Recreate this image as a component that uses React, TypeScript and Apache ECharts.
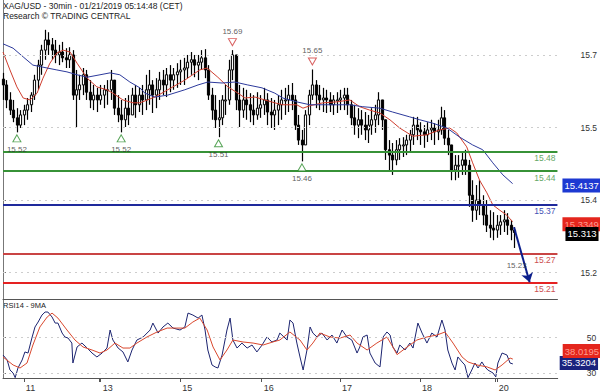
import React, { useEffect, useRef } from 'react';
import * as echarts from 'echarts';

const titleText = 'XAG/USD - 30min - 01/21/2019 05:14:48 (CET)';
const subtitleText = 'Research \u00A9 TRADING CENTRAL';
const rsiTitle = 'RSI14 - 9MA';

// hourly bars (index = hour since the start of the window)
const firstOpen = 15.63;
const highs = [
  15.643, 15.628, 15.603, 15.587, 15.570, 15.566, 15.577, 15.591, 15.603, 15.639,
  15.670, 15.701, 15.732, 15.727, 15.715, 15.711, 15.701, 15.707, 15.694, 15.696,
  15.690, 15.649, 15.639, 15.653, 15.649, 15.628, 15.618, 15.612, 15.618, 15.618,
  15.628, 15.649, 15.628, 15.597, 15.587, 15.591, 15.597, 15.612, 15.618, 15.612,
  15.618, 15.639, 15.649, 15.628, 15.632, 15.645, 15.649, 15.653, 15.659, 15.653,
  15.663, 15.670, 15.674, 15.680, 15.686, 15.680, 15.680, 15.690, 15.692, 15.659,
  15.612, 15.597, 15.587, 15.597, 15.618, 15.670, 15.690, 15.670, 15.618, 15.612,
  15.608, 15.601, 15.597, 15.603, 15.597, 15.612, 15.601, 15.591, 15.587, 15.597,
  15.608, 15.612, 15.618, 15.622, 15.597, 15.556, 15.525, 15.566, 15.608, 15.650,
  15.628, 15.618, 15.612, 15.608, 15.603, 15.597, 15.603, 15.608, 15.612, 15.612,
  15.587, 15.577, 15.570, 15.566, 15.562, 15.556, 15.570, 15.577, 15.603, 15.587,
  15.546, 15.504, 15.498, 15.504, 15.508, 15.510, 15.515, 15.525, 15.552, 15.552,
  15.541, 15.535, 15.541, 15.546, 15.539, 15.546, 15.573, 15.566, 15.525, 15.494,
  15.473, 15.473, 15.479, 15.484, 15.463, 15.421, 15.411, 15.421, 15.390, 15.380,
  15.359, 15.355, 15.349, 15.349, 15.359, 15.353, 15.339, 15.324,
];
const lows = [
  15.587, 15.570, 15.556, 15.541, 15.520, 15.529, 15.535, 15.546, 15.562, 15.587,
  15.608, 15.639, 15.670, 15.680, 15.670, 15.663, 15.659, 15.665, 15.653, 15.653,
  15.587, 15.531, 15.587, 15.597, 15.587, 15.570, 15.566, 15.562, 15.577, 15.570,
  15.577, 15.587, 15.556, 15.541, 15.520, 15.531, 15.535, 15.556, 15.550, 15.562,
  15.556, 15.566, 15.577, 15.560, 15.570, 15.587, 15.597, 15.593, 15.603, 15.608,
  15.612, 15.618, 15.618, 15.632, 15.639, 15.634, 15.628, 15.649, 15.632, 15.587,
  15.546, 15.529, 15.510, 15.535, 15.556, 15.577, 15.628, 15.566, 15.531, 15.550,
  15.546, 15.541, 15.535, 15.546, 15.550, 15.556, 15.535, 15.529, 15.525, 15.535,
  15.546, 15.556, 15.562, 15.566, 15.525, 15.494, 15.460, 15.494, 15.535, 15.587,
  15.570, 15.566, 15.562, 15.560, 15.562, 15.556, 15.560, 15.566, 15.566, 15.556,
  15.535, 15.515, 15.508, 15.515, 15.504, 15.498, 15.515, 15.519, 15.535, 15.525,
  15.463, 15.442, 15.432, 15.452, 15.463, 15.469, 15.473, 15.479, 15.494, 15.504,
  15.494, 15.488, 15.500, 15.504, 15.494, 15.504, 15.515, 15.494, 15.473, 15.421,
  15.421, 15.426, 15.432, 15.432, 15.366, 15.335, 15.339, 15.349, 15.328, 15.314,
  15.302, 15.297, 15.302, 15.308, 15.314, 15.308, 15.297, 15.281,
];
const closes = [
  15.618, 15.587, 15.566, 15.550, 15.535, 15.556, 15.566, 15.577, 15.597, 15.628,
  15.659, 15.690, 15.711, 15.701, 15.690, 15.680, 15.686, 15.674, 15.670, 15.680,
  15.597, 15.608, 15.618, 15.639, 15.603, 15.587, 15.597, 15.587, 15.597, 15.608,
  15.608, 15.628, 15.570, 15.556, 15.546, 15.570, 15.556, 15.597, 15.577, 15.597,
  15.587, 15.608, 15.618, 15.597, 15.608, 15.628, 15.618, 15.639, 15.628, 15.639,
  15.645, 15.649, 15.653, 15.665, 15.670, 15.659, 15.665, 15.674, 15.649, 15.597,
  15.566, 15.546, 15.550, 15.587, 15.587, 15.649, 15.680, 15.587, 15.566, 15.587,
  15.577, 15.566, 15.556, 15.570, 15.577, 15.587, 15.562, 15.556, 15.566, 15.577,
  15.587, 15.587, 15.597, 15.587, 15.535, 15.504, 15.494, 15.556, 15.597, 15.618,
  15.597, 15.587, 15.591, 15.587, 15.577, 15.587, 15.587, 15.591, 15.597, 15.577,
  15.550, 15.535, 15.546, 15.535, 15.525, 15.535, 15.546, 15.556, 15.587, 15.546,
  15.484, 15.473, 15.463, 15.484, 15.494, 15.494, 15.504, 15.515, 15.535, 15.525,
  15.521, 15.515, 15.525, 15.529, 15.521, 15.525, 15.550, 15.508, 15.494, 15.442,
  15.452, 15.452, 15.463, 15.452, 15.390, 15.359, 15.380, 15.370, 15.349, 15.328,
  15.322, 15.318, 15.328, 15.335, 15.339, 15.328, 15.318, 15.313,
];

const redMA: [number, number][] = [
  [0, 15.686], [2.0, 15.649], [4.0, 15.614], [5.8, 15.591], [7.8, 15.587], [9.8, 15.601],
  [11.5, 15.632], [13.5, 15.663], [15.5, 15.684], [17.3, 15.690], [19.3, 15.686], [21.3, 15.663],
  [24.2, 15.632], [27.0, 15.614], [29.9, 15.608], [31.6, 15.601], [34.5, 15.587], [37.4, 15.581],
  [39.4, 15.581], [43.7, 15.593], [47.4, 15.608], [52.3, 15.628], [56.6, 15.649], [58.7, 15.653],
  [61.8, 15.634], [64.7, 15.614], [67.6, 15.601], [69.6, 15.591], [72.5, 15.593], [75.3, 15.587],
  [78.2, 15.581], [80.5, 15.577], [84.5, 15.577], [86.3, 15.570], [88.3, 15.575], [92.0, 15.581],
  [96.0, 15.583], [99.8, 15.587], [102.6, 15.573], [105.5, 15.566], [108.4, 15.560], [111.3, 15.546],
  [114.1, 15.529], [117.9, 15.512], [121.9, 15.515], [125.6, 15.525], [128.5, 15.529], [130.5, 15.519],
  [133.4, 15.490], [135.1, 15.457], [137.1, 15.421], [139.2, 15.395], [140.9, 15.370], [142.9, 15.359],
  [144.9, 15.349], [146.6, 15.335],
];
const blueMA: [number, number][] = [
  [0, 15.703], [2.9, 15.694], [5.8, 15.676], [8.6, 15.659], [12.7, 15.653], [15.5, 15.649],
  [18.4, 15.645], [21.3, 15.639], [24.2, 15.634], [27.9, 15.639], [30.8, 15.643], [33.6, 15.639],
  [36.5, 15.624], [39.4, 15.612], [40.8, 15.601], [43.7, 15.593], [47.4, 15.597], [52.3, 15.608],
  [56.1, 15.618], [58.9, 15.624], [63.0, 15.622], [66.7, 15.624], [70.4, 15.618], [74.5, 15.612],
  [78.2, 15.601], [80.5, 15.591], [84.5, 15.583], [88.3, 15.577], [96.0, 15.577], [99.8, 15.577],
  [103.5, 15.573], [108.4, 15.570], [112.1, 15.562], [117.0, 15.552], [119.9, 15.546], [123.6, 15.539],
  [127.7, 15.529], [131.4, 15.510], [135.1, 15.494], [138.0, 15.484], [140.9, 15.457], [143.8, 15.432],
  [146.6, 15.414],
];

const rsi: [number, number][] = [
  [0, 40.3], [1.2, 37.5], [2.0, 31.9], [2.9, 30.2], [3.5, 27.6], [4.3, 33.0], [5.5, 37.5], [6.3, 42.0],
  [7.2, 41.4], [8.3, 49.8], [9.2, 56.0], [10.1, 58.8], [11.2, 62.7], [12.1, 64.4], [12.9, 64.4], [14.1, 61.6],
  [15.0, 58.2], [15.8, 58.2], [17.0, 52.6], [17.8, 50.4], [18.7, 49.8], [19.8, 47.0], [20.1, 35.8], [21.3, 44.8],
  [22.7, 47.0], [24.2, 44.2], [25.6, 41.4], [27.0, 39.2], [28.5, 41.4], [29.9, 44.2], [30.8, 54.3], [31.6, 48.7],
  [33.1, 44.2], [34.5, 42.0], [35.9, 36.4], [37.1, 43.1], [38.5, 48.7], [40.3, 50.4], [42.3, 54.3], [43.1, 58.2],
  [44.6, 52.6], [46.0, 56.0], [47.4, 58.2], [48.9, 55.4], [50.9, 54.3], [52.3, 56.0], [53.2, 63.8], [54.6, 62.7],
  [56.1, 61.0], [57.2, 62.7], [58.1, 54.3], [58.9, 43.1], [60.1, 34.7], [61.0, 33.6], [61.8, 33.0], [63.0, 40.3],
  [64.4, 54.3], [65.3, 61.0], [66.1, 48.7], [67.3, 44.2], [68.7, 47.0], [70.2, 44.2], [71.6, 45.9], [73.0, 42.0],
  [74.5, 45.9], [75.9, 50.4], [77.3, 47.6], [78.8, 48.7], [79.6, 52.6], [81.7, 48.7], [82.5, 59.9], [83.4, 58.2],
  [84.5, 47.0], [85.4, 39.2], [86.3, 31.9], [87.4, 43.1], [88.3, 56.0], [89.1, 52.6], [90.3, 50.4], [91.7, 52.6],
  [93.2, 48.7], [94.6, 51.5], [96.0, 47.0], [97.5, 54.3], [98.9, 50.4], [100.3, 48.7], [101.8, 41.4], [102.6, 44.8],
  [103.5, 50.4], [104.7, 51.5], [105.5, 41.4], [107.0, 35.8], [108.4, 33.6], [109.3, 50.4], [110.4, 53.2], [111.3, 51.5],
  [112.1, 44.8], [113.3, 41.4], [114.1, 45.9], [115.6, 43.1], [117.0, 47.0], [117.9, 44.2], [119.3, 58.2], [120.5, 52.6],
  [121.9, 47.0], [123.3, 52.6], [124.8, 50.4], [126.2, 59.9], [127.1, 54.3], [127.9, 43.1], [129.1, 35.8], [130.0, 31.9],
  [130.8, 39.2], [132.0, 36.4], [132.8, 34.7], [133.7, 27.6], [134.8, 31.9], [135.7, 35.8], [136.6, 33.0], [137.7, 36.4],
  [138.6, 33.6], [139.4, 31.9], [140.9, 30.2], [141.7, 28.0], [142.3, 35.8], [143.5, 41.4], [144.9, 40.3], [145.8, 35.8],
  [146.6, 35.3],
];
const rsiMA: [number, number][] = [
  [0, 39.2], [2.9, 34.7], [4.9, 33.0], [6.9, 35.8], [8.6, 45.9], [10.6, 56.0], [12.7, 61.6], [14.1, 63.8],
  [15.8, 61.0], [18.4, 54.3], [20.7, 48.7], [23.0, 44.8], [25.6, 43.1], [27.9, 41.4], [29.9, 43.1], [32.2, 47.0],
  [34.5, 44.2], [36.5, 44.2], [38.5, 47.0], [41.4, 50.4], [44.3, 53.2], [47.2, 55.4], [50.0, 55.4], [52.3, 55.4],
  [54.6, 58.8], [56.6, 61.0], [58.7, 54.3], [60.4, 44.8], [62.4, 37.5], [64.4, 43.1], [66.1, 48.7], [69.0, 47.6],
  [71.9, 47.0], [74.8, 45.9], [77.6, 47.6], [79.6, 48.7], [82.5, 53.2], [85.4, 48.7], [87.4, 43.1], [89.1, 47.0],
  [91.1, 52.6], [94.0, 50.4], [96.9, 49.8], [99.8, 51.5], [101.8, 47.0], [104.7, 43.1], [107.5, 47.0], [110.4, 50.4],
  [112.1, 44.8], [113.3, 40.5], [116.2, 44.8], [119.0, 48.7], [121.9, 50.4], [124.8, 51.5], [127.1, 53.2], [129.4, 47.0],
  [132.0, 39.2], [133.7, 36.4], [136.3, 34.7], [139.2, 33.6], [141.5, 31.9], [143.5, 34.7], [145.8, 38.6], [146.6, 38.0],
];

const priceGridValues = [15.23, 15.38, 15.53, 15.68];
const rsiGridValues = [30, 50];
const levelValues = [15.48, 15.44, 15.37, 15.27, 15.21];
const lowMarks: [number, number][] = [[4, 15.52], [34, 15.52], [62, 15.51], [86, 15.46]];
const highMarks: [number, number][] = [[66, 15.69], [89, 15.65]];
const lastBlueMA = 15.4137;
const lastRedMA = 15.3349;
const lastClose = 15.313;
const lastRsi = 35.3204;
const lastRsiMA = 38.0195;
const forecastEnd: [number, number] = [151.5, 15.21];
const forecastText = '15.23';
const dayTicks = [6.0, 27.6, 28.1, 51.0, 74.4, 96.9, 119.9, 141.5, 142.0];
const dayLabelTicks = [6.0, 28.1, 51.0, 74.4, 96.9, 119.9, 142.0];
const dayLabels = ['11', '13', '15', '16', '17', '18', '20'];

// styles
const levelLineColors = ['#379237', '#379237', '#1f2a9c', '#c94444', '#e52222'];
const levelTextColors = ['#67a867', '#67a867', '#4452b4', '#cc5050', '#cc5050'];
const FONT = 'Liberation Sans, Arial, sans-serif';
const X_MAX = 159.5;
const PRICE_MIN = 15.1755;
const PRICE_MAX = 15.7936;
const RSI_MIN = 27.4;
const RSI_MAX = 71.7;
const HIDDEN_LINE = { color: 'rgba(0,0,0,0)', width: 0 };

const renderCandle = (_params: any, api: any) => {
  const i = api.value(0);
  const o = api.value(1);
  const c = api.value(2);
  const l = api.value(3);
  const h = api.value(4);
  const hi = api.coord([i, Math.max(h, o, c)]);
  const lo = api.coord([i, Math.min(l, o, c)]);
  const po = api.coord([i, o]);
  const pc = api.coord([i, c]);
  const x = Math.round(hi[0]) + 0.5;
  const top = Math.min(po[1], pc[1]);
  const bh = Math.max(Math.abs(po[1] - pc[1]), 1);
  return {
    type: 'group',
    children: [
      { type: 'line', shape: { x1: x, y1: hi[1], x2: x, y2: lo[1] }, style: { stroke: '#000', lineWidth: 1.2 } },
      {
        type: 'rect',
        shape: { x: x - 1.1, y: top, width: 2.2, height: bh },
        style: { fill: c >= o ? '#fff' : '#000', stroke: '#000', lineWidth: 1 },
      },
    ],
  };
};

const boxLabel = (text: string, bg: string, fg: string, distance: number, offset: number[] = [0, 0]) => ({
  show: true, position: 'end', formatter: text, backgroundColor: bg, color: fg,
  fontSize: 9.5, padding: [2, 2, 2, 2], distance, offset,
});

export default function App() {
  const ref = useRef<HTMLDivElement>(null);
  useEffect(() => {
    if (!ref.current) return;
    const chart = echarts.init(ref.current, undefined, { renderer: 'svg' });
    const candleData = closes.map((c, i) => [i, i === 0 ? firstOpen : closes[i - 1], c, lows[i], highs[i]]);
    const lastIdx = closes.length - 1;

    const option: any = {
      animation: false,
      textStyle: { fontFamily: FONT },
      grid: [
        { left: 3, right: 42.3, top: 0, height: 299 },
        { left: 3, right: 42.3, top: 299, height: 79 },
      ],
      xAxis: [
        {
          type: 'value', gridIndex: 0, min: 0, max: X_MAX,
          axisLine: { show: true, onZero: false, lineStyle: { color: '#555', width: 1 } },
          axisTick: { show: false }, axisLabel: { show: false }, splitLine: { show: false },
        },
        {
          type: 'value', gridIndex: 1, min: 0, max: X_MAX,
          axisLine: { show: true, onZero: false, lineStyle: { color: '#555', width: 1 } },
          axisTick: { show: true, customValues: dayTicks, length: 4, lineStyle: { color: '#555' } },
          axisLabel: {
            show: true, customValues: dayLabelTicks, margin: 5, fontSize: 9, color: '#333', align: 'left',
            padding: [0, 0, 0, 2],
            formatter: (v: number) => {
              const k = dayLabelTicks.findIndex((t) => Math.abs(t - v) < 0.01);
              return k >= 0 ? dayLabels[k] : '';
            },
          },
          splitLine: { show: false },
        },
      ],
      yAxis: [
        {
          type: 'value', gridIndex: 0, position: 'right', min: PRICE_MIN, max: PRICE_MAX,
          axisLine: { show: true, lineStyle: { color: '#777' } },
          axisTick: { show: true, customValues: priceGridValues, length: 3, lineStyle: { color: '#777' } },
          axisLabel: {
            customValues: priceGridValues, margin: 23, fontSize: 8.5, color: '#333',
            formatter: (v: number) => v.toFixed(1),
          },
          splitLine: { show: false },
        },
        {
          type: 'value', gridIndex: 1, position: 'right', min: RSI_MIN, max: RSI_MAX,
          axisLine: { show: true, lineStyle: { color: '#777' } },
          axisTick: { show: true, customValues: rsiGridValues, length: 3, lineStyle: { color: '#777' } },
          axisLabel: {
            customValues: rsiGridValues, margin: 29, fontSize: 8.5, color: '#333',
            formatter: (v: number) => String(Math.round(v)),
          },
          splitLine: { show: false },
        },
      ],
      graphic: [
        { type: 'text', left: 3, top: 1.5, style: { text: titleText, fontSize: 8.5, fill: '#222', fontFamily: FONT } },
        { type: 'text', left: 3, top: 11.5, style: { text: subtitleText, fontSize: 8.5, fill: '#222', fontFamily: FONT } },
        { type: 'text', left: 3, top: 301, style: { text: rsiTitle, fontSize: 7.5, fill: '#222', fontFamily: FONT } },
      ],
      series: [
        {
          type: 'custom', name: 'price', xAxisIndex: 0, yAxisIndex: 0,
          data: candleData, encode: { x: 0, y: [1, 2, 3, 4] },
          renderItem: renderCandle, z: 2,
          markLine: {
            silent: true, symbol: 'none', animation: false,
            data: [
              ...priceGridValues.map((v) => ({
                yAxis: v, lineStyle: { color: '#cdcdcd', type: [2, 4], width: 1 }, label: { show: false },
              })),
              ...levelValues.map((v, i) => ({
                yAxis: v,
                lineStyle: { color: levelLineColors[i], width: 2, type: 'solid' },
                label: {
                  show: true, position: 'insideEndBottom', formatter: v.toFixed(2),
                  color: levelTextColors[i], fontSize: 8.5, distance: [2, 2],
                },
              })),
              [
                { coord: [lastIdx, highs[lastIdx]], symbol: 'none', lineStyle: { color: '#0c1f8c', width: 2, type: 'solid' } },
                {
                  coord: forecastEnd, symbol: 'arrow', symbolSize: 9,
                  lineStyle: { color: '#0c1f8c', width: 2, type: 'solid' },
                },
              ],
            ],
          },
        },
        {
          type: 'line', name: 'ma-red', xAxisIndex: 0, yAxisIndex: 0, data: redMA,
          showSymbol: false, symbol: 'none', lineStyle: { color: '#cf3d2e', width: 1 }, z: 3,
          markLine: {
            silent: true, symbol: 'none', z: 8,
            data: [{ yAxis: lastRedMA, lineStyle: HIDDEN_LINE, label: boxLabel(lastRedMA.toFixed(4), '#e4261d', '#ff9d90', 5) }],
          },
        },
        {
          type: 'line', name: 'ma-blue', xAxisIndex: 0, yAxisIndex: 0, data: blueMA,
          showSymbol: false, symbol: 'none', lineStyle: { color: '#2d3a9c', width: 1 }, z: 3,
          markLine: {
            silent: true, symbol: 'none', z: 8,
            data: [{ yAxis: lastBlueMA, lineStyle: HIDDEN_LINE, label: boxLabel(lastBlueMA.toFixed(4), '#1d39d2', '#fff', 5) }],
          },
        },
        {
          type: 'line', name: 'close', xAxisIndex: 0, yAxisIndex: 0, data: [[lastIdx, lastClose]],
          showSymbol: false, symbol: 'none', lineStyle: HIDDEN_LINE, z: 9,
          markLine: {
            silent: true, symbol: 'none', z: 9,
            data: [{ yAxis: lastClose, lineStyle: HIDDEN_LINE, label: boxLabel(lastClose.toFixed(3), '#000', '#fff', 8) }],
          },
        },
        {
          type: 'scatter', name: 'lows', xAxisIndex: 0, yAxisIndex: 0, data: lowMarks,
          symbol: 'triangle', symbolSize: [8, 7], symbolOffset: [0, 6], z: 6,
          itemStyle: { color: '#fff', borderColor: '#2f8f2f', borderWidth: 1 },
          label: {
            show: true, position: 'bottom', distance: 3, fontSize: 8, color: '#333',
            formatter: (p: any) => p.value[1].toFixed(2),
          },
        },
        {
          type: 'scatter', name: 'highs', xAxisIndex: 0, yAxisIndex: 0, data: highMarks,
          symbol: 'path://M0,0 L10,0 L5,8 Z', symbolSize: [8, 7], symbolOffset: [0, -8], z: 6,
          itemStyle: { color: '#fff', borderColor: '#d03a3a', borderWidth: 1 },
          label: {
            show: true, position: 'top', distance: 3, fontSize: 8, color: '#333',
            formatter: (p: any) => p.value[1].toFixed(2),
          },
        },
        {
          type: 'scatter', name: 'forecast', xAxisIndex: 0, yAxisIndex: 0, data: [forecastEnd],
          symbolSize: 1, itemStyle: { color: 'rgba(0,0,0,0)' }, z: 6,
          label: { show: true, position: 'inside', offset: [-13, -17], fontSize: 8, color: '#333', formatter: forecastText },
        },
        {
          type: 'line', name: 'rsi', xAxisIndex: 1, yAxisIndex: 1, data: rsi,
          showSymbol: false, symbol: 'none', lineStyle: { color: '#1c2470', width: 1 }, z: 3,
          markLine: {
            silent: true, symbol: 'none',
            data: [
              ...rsiGridValues.map((v) => ({
                yAxis: v, lineStyle: { color: '#cdcdcd', type: [2, 4], width: 1 }, label: { show: false },
              })),
              { yAxis: lastRsi, lineStyle: HIDDEN_LINE, label: boxLabel(lastRsi.toFixed(4), '#1a237e', '#fff', 2, [0, -1]) },
            ],
          },
        },
        {
          type: 'line', name: 'rsi-ma', xAxisIndex: 1, yAxisIndex: 1, data: rsiMA,
          showSymbol: false, symbol: 'none', lineStyle: { color: '#d9482e', width: 1 }, z: 4,
          markLine: {
            silent: true, symbol: 'none',
            data: [{ yAxis: lastRsiMA, lineStyle: HIDDEN_LINE, label: boxLabel(lastRsiMA.toFixed(4), '#e4261d', '#ff9d90', 5, [0, -8]) }],
          },
        },
      ],
    };
    chart.setOption(option);
    return () => chart.dispose();
  }, []);
  return <div ref={ref} style={{ position: 'fixed', left: 0, top: 0, width: 600, height: 392, background: '#fff' }} />;
}
